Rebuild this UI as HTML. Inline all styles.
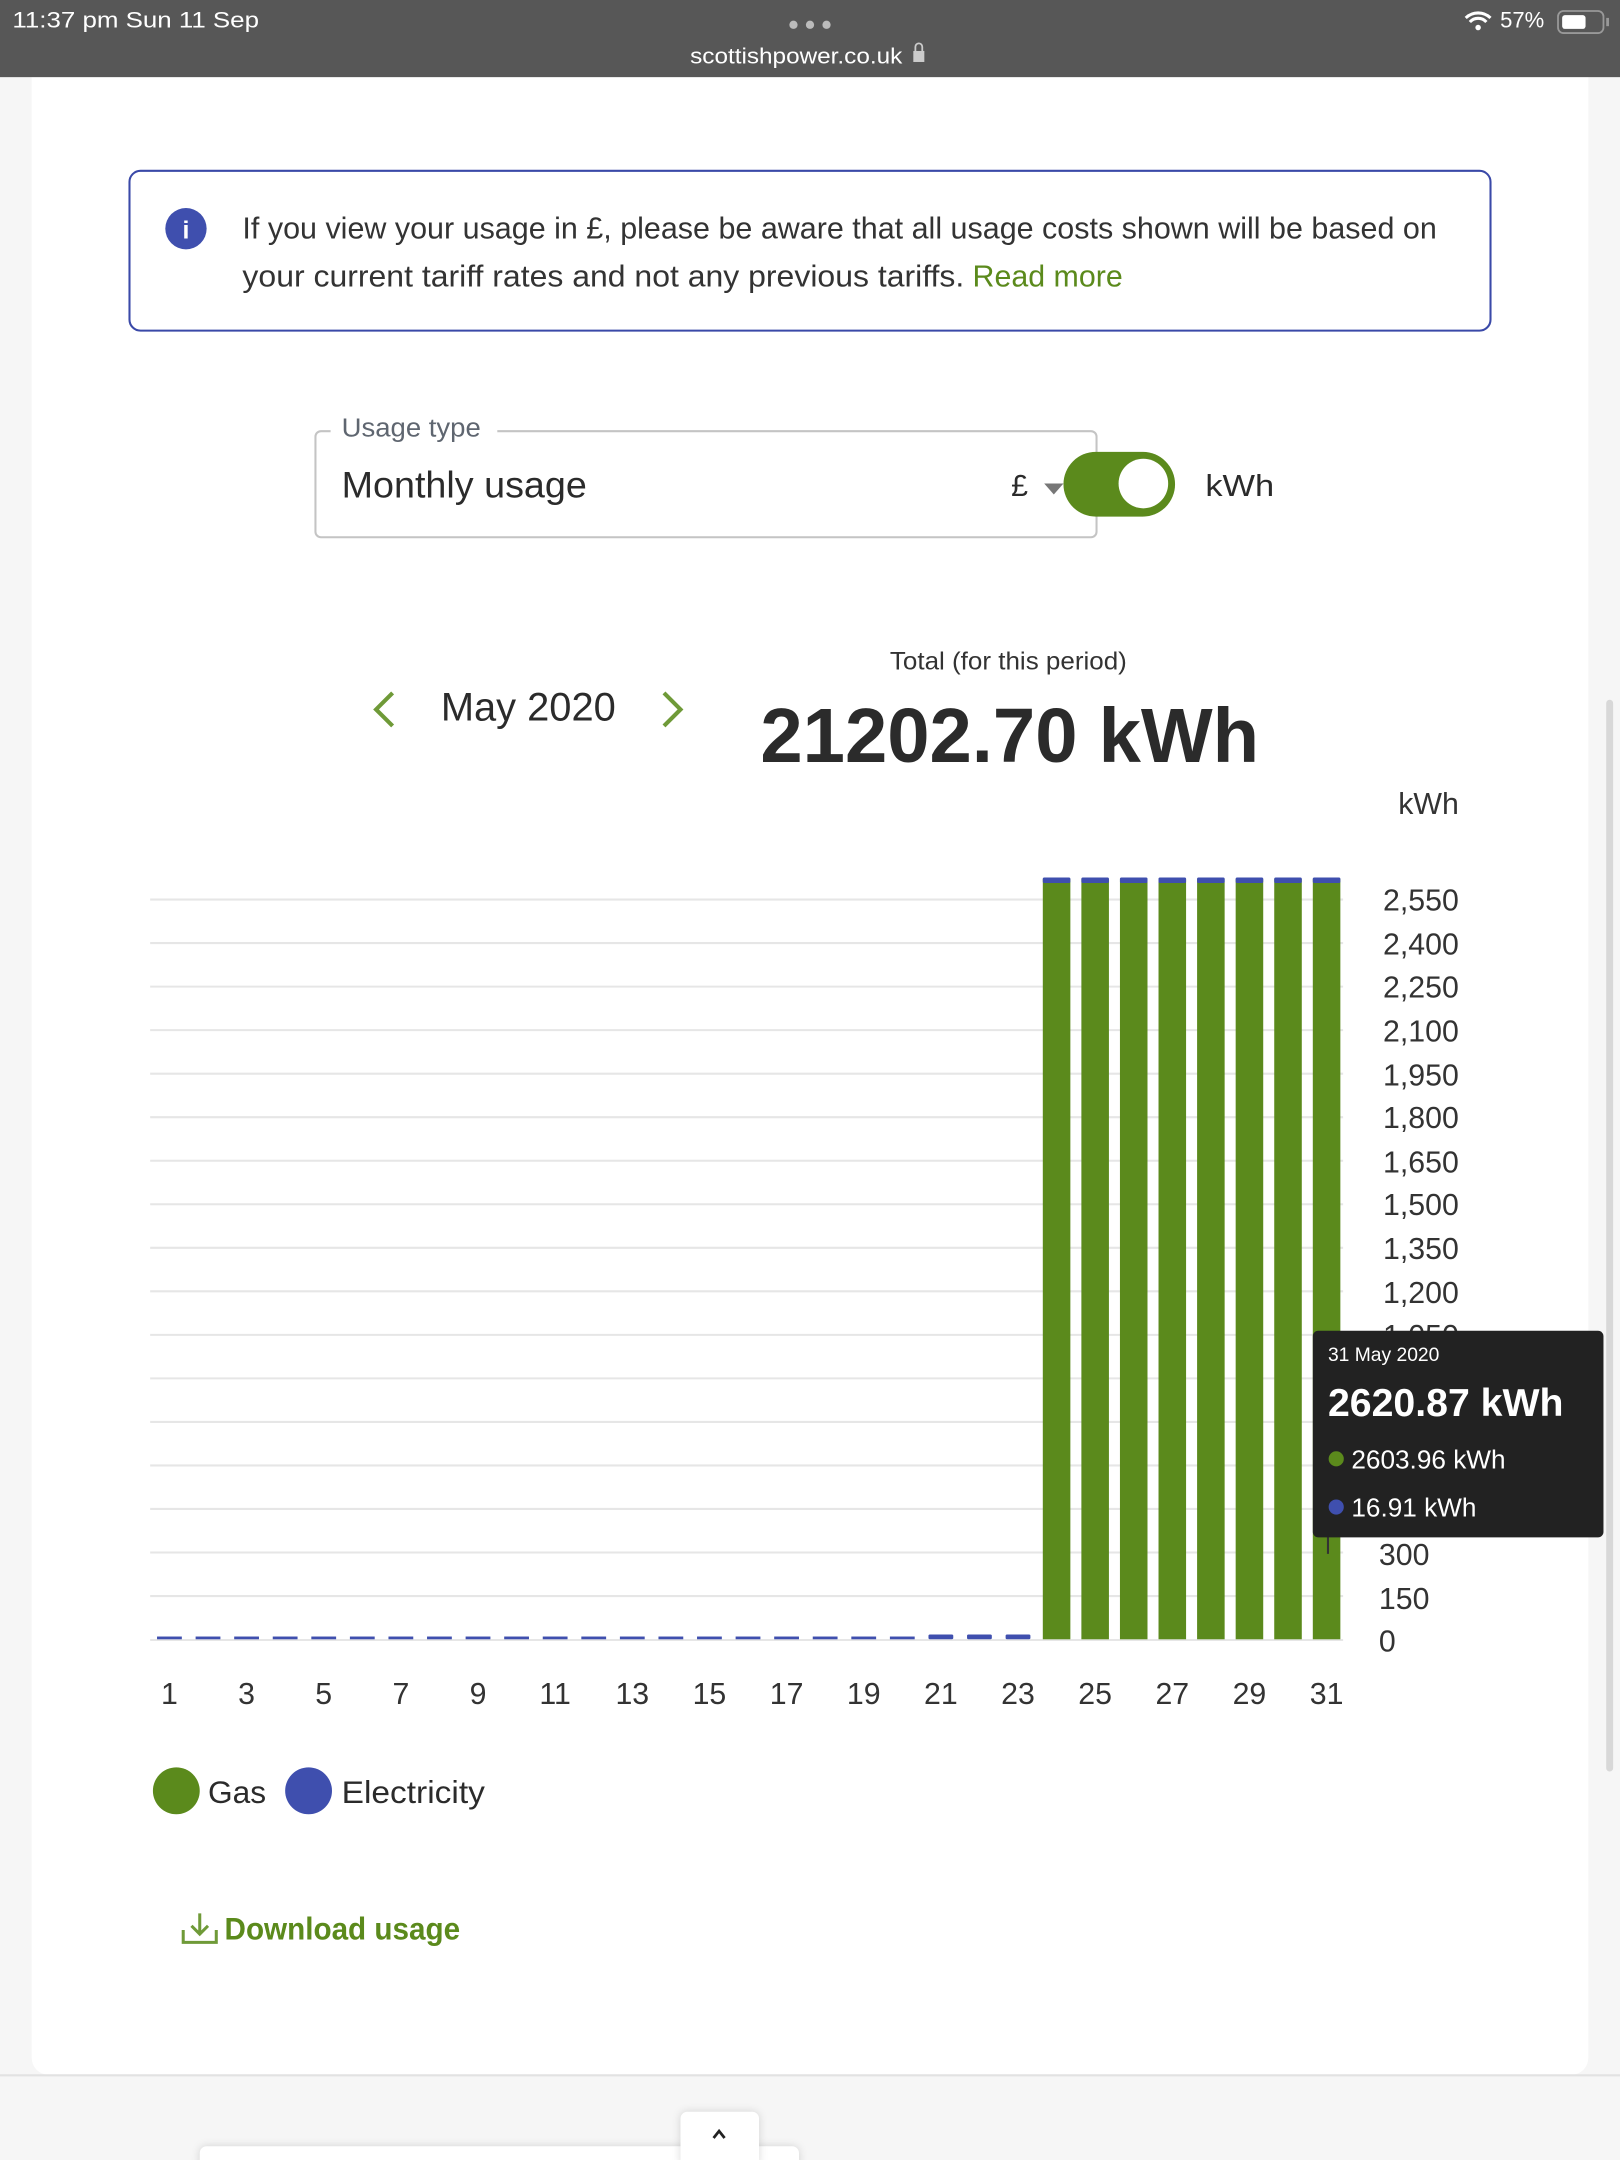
<!DOCTYPE html>
<html><head><meta charset="utf-8">
<style>html,body{margin:0;padding:0;background:#f6f6f6}svg{display:block}</style></head>
<body>
<svg width="1620" height="2160" viewBox="0 0 1176 1568" xmlns="http://www.w3.org/2000/svg" font-family="'Liberation Sans', sans-serif">
<rect width="1176" height="1568" fill="#f6f6f6"/>
<!-- card -->
<rect x="23" y="40" width="1130" height="1466" rx="12" fill="#fff"/>
<line x1="0" y1="1506.5" x2="1176" y2="1506.5" stroke="#e2e2e2" stroke-width="1.5"/>
<!-- scrollbar -->
<rect x="1166" y="508" width="5" height="778" rx="2.5" fill="#d8d8d8"/>
<!-- status bar -->
<rect x="0" y="0" width="1176" height="56" fill="#575757"/>
<text x="9" y="20" font-size="16" fill="#fff" textLength="179" lengthAdjust="spacingAndGlyphs">11:37 pm   Sun 11 Sep</text>
<circle cx="576" cy="18" r="3" fill="#bbb"/><circle cx="588" cy="18" r="3" fill="#bbb"/><circle cx="600" cy="18" r="3" fill="#bbb"/>
<text x="501" y="46" font-size="16" fill="#fff" textLength="154" lengthAdjust="spacingAndGlyphs">scottishpower.co.uk</text>
<rect x="663" y="37" width="8" height="8" fill="#ccc"/><path d="M664.5 37 v-3 a2.5 2.5 0 0 1 5 0 v3" fill="none" stroke="#ccc" stroke-width="1.3"/>
<path d="M1064 13 a13 13 0 0 1 18 0" fill="none" stroke="#fff" stroke-width="2.2"/>
<path d="M1067 16 a8 8 0 0 1 12 0" fill="none" stroke="#fff" stroke-width="2.2"/>
<circle cx="1073" cy="20" r="2" fill="#fff"/>
<text x="1089" y="20" font-size="16" fill="#fff">57%</text>
<rect x="1131" y="8" width="33" height="16" rx="4" fill="none" stroke="#999" stroke-width="1.3"/>
<rect x="1134" y="11" width="17" height="10" rx="2" fill="#fff"/>
<rect x="1166" y="13" width="2" height="6" fill="#999"/>
<!-- info box -->
<rect x="94" y="124" width="988" height="116" rx="8" fill="#fff" stroke="#3a49a8" stroke-width="1.5"/>
<circle cx="135" cy="166" r="15" fill="#3f4fae"/>
<text x="135" y="173" font-size="18" font-weight="bold" fill="#fff" text-anchor="middle">i</text>
<text x="176" y="173" font-size="22" fill="#333" textLength="867" lengthAdjust="spacingAndGlyphs">If you view your usage in £, please be aware that all usage costs shown will be based on</text>
<text x="176" y="208" font-size="22" fill="#333" textLength="524" lengthAdjust="spacingAndGlyphs">your current tariff rates and not any previous tariffs.</text>
<text x="706" y="208" font-size="22" fill="#5b8a1c" textLength="109" lengthAdjust="spacingAndGlyphs">Read more</text>
<!-- select -->
<path d="M240 313 H233 a4 4 0 0 0 -4 4 V386 a4 4 0 0 0 4 4 H792 a4 4 0 0 0 4 -4 V317 a4 4 0 0 0 -4 -4 H361" fill="none" stroke="#c4c4c4" stroke-width="1.5"/>
<text x="248" y="317" font-size="19" fill="#5f6670" textLength="101" lengthAdjust="spacingAndGlyphs">Usage type</text>
<text x="248" y="361" font-size="27" fill="#2b2b2b" textLength="178" lengthAdjust="spacingAndGlyphs">Monthly usage</text>
<text x="734" y="360" font-size="22" fill="#2b2b2b">£</text>
<path d="M758 351 h14 l-7 8 z" fill="#777"/>
<rect x="772" y="328" width="81" height="47" rx="23.5" fill="#5b8a1c"/>
<circle cx="830" cy="351" r="18" fill="#fff"/>
<text x="875" y="360" font-size="22" fill="#2b2b2b" textLength="50" lengthAdjust="spacingAndGlyphs">kWh</text>
<!-- period -->
<path d="M285 503 l-12 12 l12 12" fill="none" stroke="#6f9a38" stroke-width="3"/>
<path d="M482 503 l12 12 l-12 12" fill="none" stroke="#6f9a38" stroke-width="3"/>
<text x="320" y="523" font-size="29" fill="#2b2b2b" textLength="127" lengthAdjust="spacingAndGlyphs">May 2020</text>
<text x="646" y="486" font-size="18" fill="#333" textLength="172" lengthAdjust="spacingAndGlyphs">Total (for this period)</text>
<text x="552" y="553" font-size="56" font-weight="bold" fill="#2b2b2b" textLength="362" lengthAdjust="spacingAndGlyphs">21202.70 kWh</text>
<text x="1059" y="591" font-size="22" fill="#333" text-anchor="end">kWh</text>
<!-- grid -->
<g stroke="#e6e6e6" stroke-width="1.5">
<line x1="109" x2="975" y1="653" y2="653"/><line x1="109" x2="975" y1="684.6" y2="684.6"/><line x1="109" x2="975" y1="716.2" y2="716.2"/><line x1="109" x2="975" y1="747.8" y2="747.8"/><line x1="109" x2="975" y1="779.4" y2="779.4"/><line x1="109" x2="975" y1="811" y2="811"/><line x1="109" x2="975" y1="842.6" y2="842.6"/><line x1="109" x2="975" y1="874.2" y2="874.2"/><line x1="109" x2="975" y1="905.8" y2="905.8"/><line x1="109" x2="975" y1="937.4" y2="937.4"/><line x1="109" x2="975" y1="969" y2="969"/><line x1="109" x2="975" y1="1000.6" y2="1000.6"/><line x1="109" x2="975" y1="1032.2" y2="1032.2"/><line x1="109" x2="975" y1="1063.8" y2="1063.8"/><line x1="109" x2="975" y1="1095.4" y2="1095.4"/><line x1="109" x2="975" y1="1127" y2="1127"/><line x1="109" x2="975" y1="1158.6" y2="1158.6"/><line x1="109" x2="975" y1="1190.5" y2="1190.5"/>
</g>
<g font-size="22" fill="#333" text-anchor="end">
<text x="1059" y="661">2,550</text><text x="1059" y="693">2,400</text><text x="1059" y="724">2,250</text><text x="1059" y="756">2,100</text><text x="1059" y="788">1,950</text><text x="1059" y="819">1,800</text><text x="1059" y="851">1,650</text><text x="1059" y="882">1,500</text><text x="1059" y="914">1,350</text><text x="1059" y="946">1,200</text><text x="1059" y="977">1,050</text>
</g>
<g font-size="22" fill="#333">
<text x="1001" y="1136">300</text><text x="1001" y="1168">150</text><text x="1001" y="1199">0</text>
</g>
<!-- small bars -->
<g fill="#3f4fae">
<rect x="114" y="1188" width="18" height="2"/><rect x="142" y="1188" width="18" height="2"/><rect x="170" y="1188" width="18" height="2"/><rect x="198" y="1188" width="18" height="2"/><rect x="226" y="1188" width="18" height="2"/><rect x="254" y="1188" width="18" height="2"/><rect x="282" y="1188" width="18" height="2"/><rect x="310" y="1188" width="18" height="2"/><rect x="338" y="1188" width="18" height="2"/><rect x="366" y="1188" width="18" height="2"/><rect x="394" y="1188" width="18" height="2"/><rect x="422" y="1188" width="18" height="2"/><rect x="450" y="1188" width="18" height="2"/><rect x="478" y="1188" width="18" height="2"/><rect x="506" y="1188" width="18" height="2"/><rect x="534" y="1188" width="18" height="2"/><rect x="562" y="1188" width="18" height="2"/><rect x="590" y="1188" width="18" height="2"/><rect x="618" y="1188" width="18" height="2"/><rect x="646" y="1188" width="18" height="2"/>
<rect x="674" y="1186.5" width="18" height="3.5" rx="1"/><rect x="702" y="1186.5" width="18" height="3.5" rx="1"/><rect x="730" y="1186.5" width="18" height="3.5" rx="1"/>
</g>
<!-- big bars -->
<g>
<rect x="757" y="638" width="20" height="552" fill="#5b8a1c"/><rect x="785" y="638" width="20" height="552" fill="#5b8a1c"/><rect x="813" y="638" width="20" height="552" fill="#5b8a1c"/><rect x="841" y="638" width="20" height="552" fill="#5b8a1c"/><rect x="869" y="638" width="20" height="552" fill="#5b8a1c"/><rect x="897" y="638" width="20" height="552" fill="#5b8a1c"/><rect x="925" y="638" width="20" height="552" fill="#5b8a1c"/><rect x="953" y="638" width="20" height="552" fill="#5b8a1c"/>
</g>
<g fill="#3f4fae">
<rect x="757" y="637" width="20" height="4" rx="1"/><rect x="785" y="637" width="20" height="4" rx="1"/><rect x="813" y="637" width="20" height="4" rx="1"/><rect x="841" y="637" width="20" height="4" rx="1"/><rect x="869" y="637" width="20" height="4" rx="1"/><rect x="897" y="637" width="20" height="4" rx="1"/><rect x="925" y="637" width="20" height="4" rx="1"/><rect x="953" y="637" width="20" height="4" rx="1"/>
</g>
<line x1="964" y1="1110" x2="964" y2="1128" stroke="#333" stroke-width="1.5"/>
<!-- x labels -->
<g font-size="22" fill="#333" text-anchor="middle">
<text x="123" y="1237">1</text><text x="179" y="1237">3</text><text x="235" y="1237">5</text><text x="291" y="1237">7</text><text x="347" y="1237">9</text><text x="403" y="1237">11</text><text x="459" y="1237">13</text><text x="515" y="1237">15</text><text x="571" y="1237">17</text><text x="627" y="1237">19</text><text x="683" y="1237">21</text><text x="739" y="1237">23</text><text x="795" y="1237">25</text><text x="851" y="1237">27</text><text x="907" y="1237">29</text><text x="963" y="1237">31</text>
</g>
<!-- tooltip -->
<rect x="953" y="966" width="211" height="150" rx="4" fill="#222"/>
<text x="964" y="988" font-size="14" fill="#fff">31 May 2020</text>
<text x="964" y="1028" font-size="28" font-weight="bold" fill="#fff" textLength="171" lengthAdjust="spacingAndGlyphs">2620.87 kWh</text>
<circle cx="970" cy="1059" r="5.5" fill="#5b8a1c"/>
<text x="981" y="1066" font-size="19" fill="#fff">2603.96 kWh</text>
<circle cx="970" cy="1094" r="5.5" fill="#3f4fae"/>
<text x="981" y="1101" font-size="19" fill="#fff">16.91 kWh</text>
<!-- legend -->
<circle cx="128" cy="1300" r="17" fill="#5b8a1c"/>
<text x="151" y="1309" font-size="23" fill="#2b2b2b">Gas</text>
<circle cx="224" cy="1300" r="17" fill="#3f4fae"/>
<text x="248" y="1309" font-size="23" fill="#2b2b2b" textLength="104" lengthAdjust="spacingAndGlyphs">Electricity</text>
<!-- download -->
<path d="M133 1401 v9 h24 v-9" fill="none" stroke="#6f9a38" stroke-width="2.2"/>
<path d="M145 1389 v15 M139 1398 l6 6 l6 -6" fill="none" stroke="#6f9a38" stroke-width="2.2"/>
<text x="163" y="1408" font-size="23" font-weight="bold" fill="#5b8a1c" textLength="171" lengthAdjust="spacingAndGlyphs">Download usage</text>
<!-- bottom -->
<rect x="145" y="1558" width="435" height="20" rx="5" fill="#fff" style="filter:drop-shadow(0 0 3px rgba(0,0,0,0.15))"/>
<rect x="494" y="1533" width="57" height="40" rx="5" fill="#fff" style="filter:drop-shadow(0 0 3px rgba(0,0,0,0.15))"/>
<path d="M518 1552 l4 -5 l4 5" fill="none" stroke="#222" stroke-width="2"/>
</svg>
</body></html>
